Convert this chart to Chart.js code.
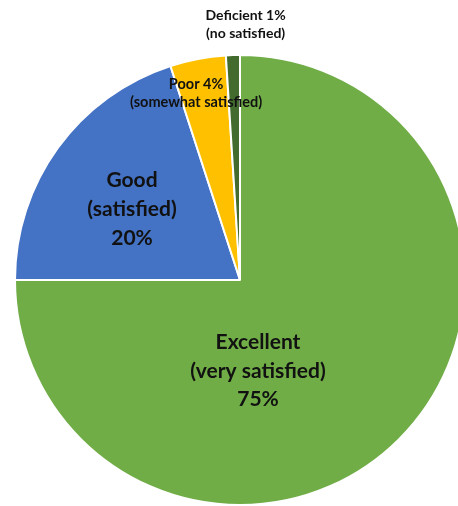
<!DOCTYPE html>
<html>
<head>
<meta charset="utf-8">
<script src="https://cdn.jsdelivr.net/npm/chart.js@4.4.1/dist/chart.umd.min.js"></script>
<style>
  html, body { margin: 0; padding: 0; background: #ffffff; overflow: hidden; width: 458px; height: 506px; }
  #wrap { position: absolute; left: 0; top: 0; }
</style>
</head>
<body>
<div id="wrap"><canvas id="pie" width="480" height="506"></canvas></div>
<script>
// Satisfaction survey results (percent)
const categories = ['Excellent', 'Good', 'Poor', 'Deficient'];
const subtitles = ['(very satisfied)', '(satisfied)', '(somewhat satisfied)', '(no satisfied)'];
const shares = [75, 20, 4, 1];
const sliceColors = ['#70ad47', '#4472c4', '#ffc000', '#426b2d'];

// Label placement, as fractions of the pie radius from its centre
const labelStyles = [
  { dx: 0.08, dy: 0.405, size: 21, lineH: 28.5, layout: 'stack' },
  { dx: -0.48, dy: -0.315, size: 21, lineH: 29, layout: 'stack' },
  { dx: -0.195, dy: -0.83, size: 14.5, lineH: 18, layout: 'pair' },
  { dx: 0.025, dy: -1.135, size: 14, lineH: 18, layout: 'pair' }
];

const labelPlugin = {
  id: 'sliceLabels',
  afterDatasetsDraw(chart) {
    const ctx = chart.ctx;
    const meta = chart.getDatasetMeta(0);
    const values = chart.data.datasets[0].data;
    ctx.save();
    ctx.fillStyle = '#111111';
    ctx.textAlign = 'center';
    ctx.textBaseline = 'middle';
    meta.data.forEach((arc, i) => {
      const p = arc.getProps(['x', 'y', 'outerRadius'], true);
      const st = labelStyles[i];
      const cx = p.x + st.dx * p.outerRadius;
      const cy = p.y + st.dy * p.outerRadius;
      let lines;
      if (st.layout === 'stack') {
        lines = [chart.data.labels[i], subtitles[i], values[i] + '%'];
      } else {
        lines = [chart.data.labels[i] + ' ' + values[i] + '%', subtitles[i]];
      }
      ctx.font = 'bold ' + st.size + 'px Lato, "Open Sans", sans-serif';
      const top = cy - (lines.length - 1) * st.lineH / 2;
      lines.forEach((t, k) => ctx.fillText(t, cx, top + k * st.lineH));
    });
    ctx.restore();
  }
};

new Chart(document.getElementById('pie'), {
  type: 'pie',
  data: {
    labels: categories,
    datasets: [{
      data: shares,
      backgroundColor: sliceColors,
      borderColor: '#ffffff',
      borderWidth: 2
    }]
  },
  options: {
    responsive: false,
    animation: false,
    rotation: 0,
    layout: { padding: { top: 54, bottom: 0, left: 14, right: 14 } },
    plugins: {
      legend: { display: false },
      tooltip: { enabled: false }
    }
  },
  plugins: [labelPlugin]
});
</script>
</body>
</html>
